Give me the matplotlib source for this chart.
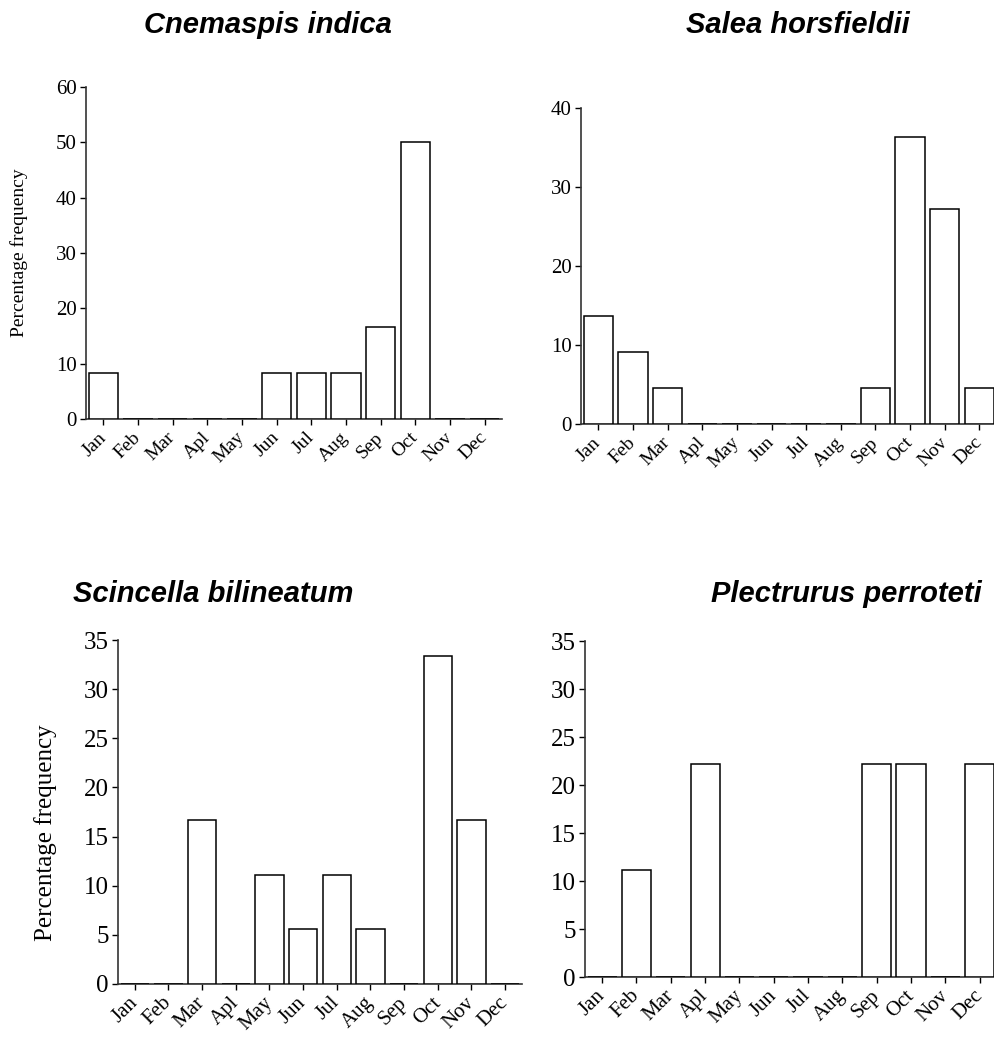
import matplotlib
matplotlib.use('Agg')
import matplotlib.pyplot as plt
import numpy as np

months = ['Jan', 'Feb', 'Mar', 'Apl', 'May', 'Jun', 'Jul', 'Aug', 'Sep', 'Oct', 'Nov', 'Dec']

cnemaspis = [8.33, 0, 0, 0, 0, 8.33, 8.33, 8.33, 16.67, 50.0, 0, 0]
salea = [13.64, 9.09, 4.55, 0, 0, 0, 0, 0, 4.55, 36.36, 27.27, 4.55]
scincella = [0, 0, 16.67, 0, 11.11, 5.56, 11.11, 5.56, 0, 33.33, 16.67, 0]
plectrurus = [0, 11.11, 0, 22.22, 0, 0, 0, 0, 22.22, 22.22, 0, 22.22]

titles = ['Cnemaspis indica', 'Salea horsfieldii', 'Scincella bilineatum', 'Plectrurus perroteti']

plt.rcParams['font.family'] = 'Liberation Serif'

W, H = 995, 1041
fig = plt.figure(figsize=(W / 100, H / 100), dpi=100)


def px_axes(left, right, bottom, top):
    return fig.add_axes([left / W, 1 - bottom / H, (right - left) / W, (bottom - top) / H])


def style(ax, values, ymax, step, tick_fs, xtick_fs, xlim_right=11.5):
    x = np.arange(len(months))
    ax.bar(x, values, width=0.85, color='white', edgecolor='black', linewidth=1.1, zorder=3)
    ax.set_xlim(-0.5, xlim_right)
    ax.set_ylim(0, ymax)
    ax.set_yticks(np.arange(0, ymax + 0.1, step))
    ax.set_xticks(x)
    ax.set_xticklabels(months, rotation=45, ha='right', va='center',
                       rotation_mode='anchor', fontsize=xtick_fs)
    ax.tick_params(axis='y', labelsize=tick_fs, direction='out', length=4.5, width=1, pad=2)
    ax.tick_params(axis='x', direction='out', length=4.5, width=1, pad=7)
    for s in ['top', 'right']:
        ax.spines[s].set_visible(False)
    for s in ['left', 'bottom']:
        ax.spines[s].set_color('#333333')
        ax.spines[s].set_linewidth(1.2)


ax1 = px_axes(86, 502, 419, 87)
style(ax1, cnemaspis, 60, 10, 15, 14)
ax1.set_ylabel('Percentage frequency', fontsize=14)
ax1.yaxis.set_label_coords(-0.139, 0.5)

ax2 = px_axes(581, 995, 424, 108)
style(ax2, salea, 40, 10, 15, 14, xlim_right=11.45)

ax3 = px_axes(118, 522, 984, 640)
style(ax3, scincella, 35, 5, 18, 15)
ax3.set_ylabel('Percentage frequency', fontsize=18)
ax3.yaxis.set_label_coords(-0.152, 0.44)

ax4 = px_axes(585, 995, 977, 641)
style(ax4, plectrurus, 35, 5, 18, 15, xlim_right=11.45)

tfont = dict(family='Liberation Sans', fontsize=21, fontweight='bold', style='italic', va='baseline')
fig.text(268 / W, 1 - 33 / H, titles[0], ha='center', **tfont)
fig.text(798 / W, 1 - 33 / H, titles[1], ha='center', **tfont)
fig.text(73 / W, 1 - 602 / H, titles[2], ha='left', **tfont)
fig.text(982 / W, 1 - 602 / H, titles[3], ha='right', **tfont)

fig.savefig('out.png', dpi=100)
